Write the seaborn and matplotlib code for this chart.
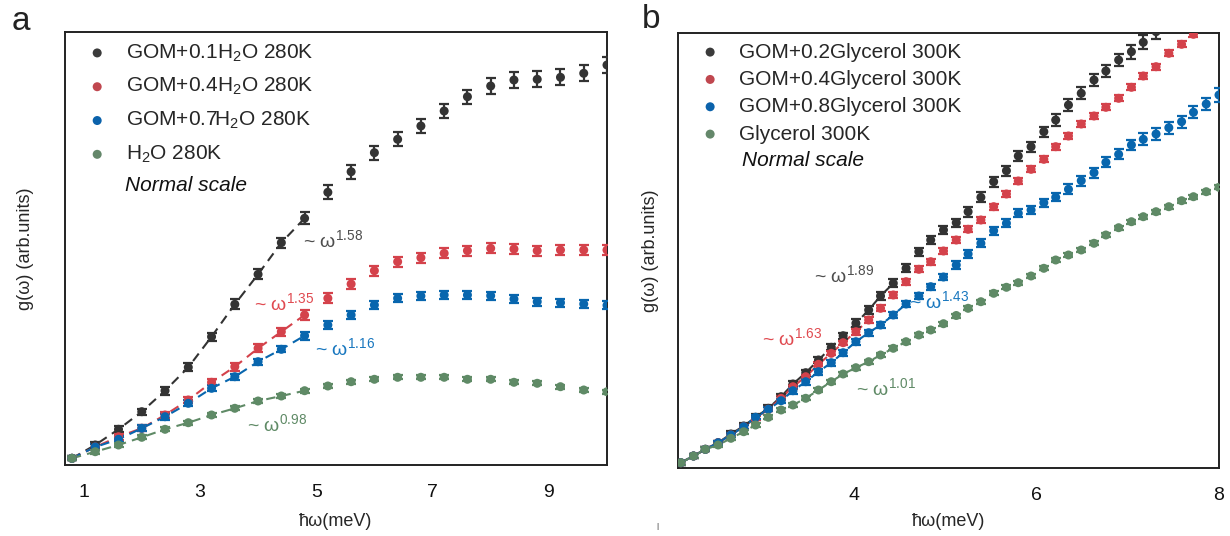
import numpy as np
import pandas as pd
import matplotlib
matplotlib.use("Agg")
import matplotlib.pyplot as plt
import seaborn as sns
from matplotlib.ticker import FixedLocator

sns.set_theme(style="white")
plt.rcParams['font.family'] = ['Liberation Sans', 'DejaVu Sans']
plt.rcParams['mathtext.fontset'] = 'custom'
plt.rcParams['mathtext.rm'] = 'Liberation Sans'
plt.rcParams['mathtext.it'] = 'Liberation Sans:italic'

# ---------------- Panel a data ----------------
energy_a = [0.8, 1.2, 1.6, 2.0, 2.4, 2.8, 3.2, 3.6, 4.0, 4.4, 4.8, 5.2,
            5.6, 6.0, 6.4, 6.8, 7.2, 7.6, 8.0, 8.4, 8.8, 9.2, 9.6, 10.0]
gom01_h2o = [6.7, 20, 35.7, 53.3, 74.3, 97.7, 128.3, 160.7, 190.7, 222.3, 246.7, 272.7,
             293.3, 312.3, 325.7, 339, 354, 368.3, 379, 385, 385.7, 387.7, 391.7, 400]
gom04_h2o = [6.7, 18, 28.3, 36.7, 50, 65, 82.7, 98.3, 116.7, 133.3, 150, 166.7,
             181, 194.3, 203.3, 207.3, 211.7, 214.3, 216.7, 216, 214.3, 215, 215, 215]
gom07_h2o = [6.7, 18, 25.7, 36.7, 48.3, 61.7, 76.7, 88.3, 103.3, 115.7, 129.3, 140,
             150, 160, 166.7, 169, 170, 170, 169.3, 166, 163.3, 162.3, 161, 159.7]
h2o = [6.7, 13.3, 20, 27.7, 35.7, 42.3, 50, 56.7, 64, 69, 74.3, 79,
       83.3, 85.7, 87.7, 87.7, 87.7, 85.7, 85.7, 82.7, 81.7, 78.3, 75, 73.3]
err_gom01_h2o = [2, 3, 3, 3, 4, 4, 4, 5, 5, 5, 6, 7, 7, 7, 7, 7, 7, 7, 8, 8, 8, 8, 8, 8]
err_gom04_h2o = [2, 3, 3, 3, 3, 3, 3, 4, 4, 4, 5, 5, 5, 5, 5, 5, 5, 5, 5, 5, 5, 5, 5, 5]
err_gom07_h2o = [2, 3, 3, 3, 3, 3, 3, 3, 3, 3, 4, 4, 4, 4, 4, 4, 4, 4, 4, 4, 4, 4, 4, 4]
err_h2o = [2, 2, 2, 2, 2, 2, 2, 2, 2, 2, 2, 2, 2, 2, 2, 2, 2, 2, 2, 2, 2, 2, 2, 2]
labels_a = ["GOM+0.1H$_2$O 280K", "GOM+0.4H$_2$O 280K", "GOM+0.7H$_2$O 280K", "H$_2$O 280K"]
fit_labels_a = ["1.58", "1.35", "1.16", "0.98"]

# ---------------- Panel b data ----------------
energy_b = [2.10, 2.24, 2.37, 2.51, 2.65, 2.79, 2.92, 3.06, 3.20, 3.33, 3.47, 3.61,
            3.75, 3.88, 4.02, 4.16, 4.29, 4.43, 4.57, 4.71, 4.84, 4.98, 5.12, 5.25,
            5.39, 5.53, 5.67, 5.80, 5.94, 6.08, 6.21, 6.35, 6.49, 6.63, 6.76, 6.90,
            7.04, 7.17, 7.31, 7.45, 7.59, 7.72, 7.86, 8.00]
gom02_gly = [5.3, 12, 18.7, 25.3, 34, 42, 50.7, 59.7, 71.3, 84, 95.3, 108,
             120.7, 132.3, 144.7, 158, 172, 184.7, 199.7, 216.3, 228, 238, 245.3, 256.3,
             270.7, 286.3, 297.3, 312, 321.3, 336.3, 348, 363, 374.7, 388, 397, 408,
             416.3, 425.7, 436.3, np.nan, np.nan, np.nan, np.nan, np.nan]
gom04_gly = [5.3, 12, 18.7, 25.3, 33, 41.3, 49.7, 58.7, 69.7, 81.3, 91.3, 103.7,
             114.7, 125.3, 136.3, 148, 159.7, 173, 186.3, 198.7, 206.3, 217, 228, 238.7,
             248, 261.3, 274, 287, 298.7, 308.7, 321.3, 332, 344, 352, 360.7, 369.7,
             380.7, 392, 401.3, 414.7, 423.7, 433.7, np.nan, np.nan]
gom08_gly = [5.3, 12, 18.7, 25.3, 33, 41.3, 50.7, 58.7, 67.3, 77.3, 86.3, 96.3,
             105.3, 115.3, 126.3, 135.3, 143, 153, 164, 172, 181.3, 191, 203, 214,
             224.7, 237.3, 244.7, 254.7, 258, 265.3, 270.7, 278.7, 287.3, 295.3, 305.7, 313.7,
             323, 328.7, 334, 340.3, 346.3, 355.7, 364, 373]
glycerol = [5.3, 12, 18.7, 23, 29.7, 36.3, 43, 50.7, 58, 63, 69.7, 78,
            86.3, 94, 100.3, 106.3, 113, 119.7, 126.3, 133, 138, 144.3, 152.5, 159.7,
            166.3, 174.7, 180.7, 185.3, 192, 199.7, 208, 213, 218, 224.7, 233, 240.3,
            246.3, 251.3, 256.3, 261.3, 267.3, 271.3, 276.3, 280.7]
err_gom02_gly = [2, 2, 2, 2, 3, 3, 3, 3, 3, 3, 3, 3, 3, 3, 4, 4, 4, 4, 4, 4, 4, 4,
                 4, 5, 5, 5, 5, 5, 5, 5, 6, 6, 6, 6, 6, 6, 7, 7, 7, 7, 7, 7, 7, 7]
err_gom04_gly = [2, 2, 2, 2, 2, 2, 2, 2, 2, 2, 2, 2, 2, 2, 3, 3, 3, 3, 3, 3, 3, 3,
                 3, 3, 3, 3, 3, 3, 3, 3, 3, 3, 3, 3, 3, 3, 3, 3, 3, 3, 3, 3, 3, 3]
err_gom08_gly = [2, 2, 2, 2, 2, 2, 2, 2, 2, 3, 3, 3, 3, 3, 3, 3, 3, 3, 3, 3, 3, 3,
                 4, 4, 4, 4, 4, 4, 4, 4, 4, 5, 5, 5, 5, 5, 5, 6, 6, 6, 6, 6, 6, 7]
err_glycerol = [2, 2, 2, 2, 2, 2, 2, 2, 2, 2, 2, 2, 2, 2, 2, 2, 2, 2, 2, 2, 2, 2,
                2, 2, 2, 2, 2, 2, 2, 2, 2, 2, 2, 2, 2, 2, 2, 2, 2, 2, 2, 2, 2, 2]
labels_b = ["GOM+0.2Glycerol 300K", "GOM+0.4Glycerol 300K", "GOM+0.8Glycerol 300K", "Glycerol 300K"]
fit_labels_b = ["1.89", "1.63", "1.43", "1.01"]

# ---------------- styling ----------------
colors = ["#333333", "#d4424b", "#0866ae", "#5f8a66"]
legend_colors = ["#3b3b3b", "#c0474f", "#0b62ab", "#64876a"]
fit_text_colors = ["#4d4d4d", "#e04a50", "#1877bf", "#5f8a66"]

fig = plt.figure(figsize=(12.3, 5.36), dpi=100)
ax_a = fig.add_axes([65/1230, (536-465)/536, (607-65)/1230, (465-32)/536])
ax_b = fig.add_axes([678/1230, (536-468)/536, (1219-678)/1230, (468-33)/536])


def draw_panel(ax, x, series, errs, labels, colors, fit_n, fit_pos, fit_labels):
    for yv, ev, lab, col, nfit in zip(series, errs, labels, colors, fit_n):
        df = pd.DataFrame({"x": x, "y": yv, "e": ev}).dropna()
        ax.errorbar(df["x"], df["y"], yerr=df["e"], fmt="none", ecolor=col,
                    elinewidth=1.6, capsize=3.4, capthick=1.6, zorder=3, clip_on=True)
        sns.lineplot(data=df.iloc[:nfit], x="x", y="y", ax=ax, color=col,
                     linestyle=(0, (4.5, 3)), linewidth=1.5, zorder=2, legend=False)
        sns.scatterplot(data=df, x="x", y="y", ax=ax, color=col, s=42,
                        edgecolor="none", label=lab, zorder=4, clip_on=True)
    for (fx, fy), lab, col in zip(fit_pos, fit_labels, fit_text_colors):
        ax.text(fx, fy, "~ ω$^{" + lab + "}$", color=col, fontsize=14, va="baseline")


# Panel a
draw_panel(ax_a, energy_a, [gom01_h2o, gom04_h2o, gom07_h2o, h2o],
           [err_gom01_h2o, err_gom04_h2o, err_gom07_h2o, err_h2o],
           labels_a, colors, [11, 11, 11, 11],
           [(4.77, 218), (3.93, 155), (4.98, 110), (3.81, 34)], fit_labels_a)
ax_a.set_xlim(0.68, 10.0)
ax_a.set_ylim(0, 433)
ax_a.xaxis.set_major_locator(FixedLocator([1, 3, 5, 7, 9]))
ax_a.xaxis.set_minor_locator(FixedLocator([2, 4, 6, 8]))

# Panel b
draw_panel(ax_b, energy_b, [gom02_gly, gom04_gly, gom08_gly, glycerol],
           [err_gom02_gly, err_gom04_gly, err_gom08_gly, err_glycerol],
           labels_b, colors, [18, 17, 19, 20],
           [(3.56, 186), (2.99, 123), (4.60, 160), (4.02, 73)], fit_labels_b)
ax_b.set_xlim(2.07, 8.0)
ax_b.set_ylim(0, 435)
ax_b.xaxis.set_major_locator(FixedLocator([4, 6, 8]))
ax_b.xaxis.set_minor_locator(FixedLocator([3, 5, 7]))

for ax, lp, leg_xy, lsp, ns_xy, xlp in [(ax_a, 22, (0.044, 0.976), 0.60, (0.111, 0.646), 8),
                                        (ax_b, 14, (0.044, 0.978), 0.40, (0.118, 0.706), 6)]:
    ax.set_yticks([])
    ax.set_xlabel("ħω(meV)", fontsize=13, labelpad=xlp)
    ax.set_ylabel("g(ω) (arb.units)", fontsize=13, labelpad=lp)
    ax.tick_params(axis="x", which="major", direction="in", length=12, width=1.5,
                   labelsize=14, pad=14, color="#111111", labelcolor="#111111")
    ax.tick_params(axis="x", which="minor", direction="in", length=7, width=1.5,
                   color="#111111")
    for sp in ax.spines.values():
        sp.set_visible(True)
        sp.set_color("#222222")
        sp.set_linewidth(1.4)
    handles, labs = ax.get_legend_handles_labels()
    leg = ax.legend(handles, labs, loc="upper left", bbox_to_anchor=leg_xy,
                    frameon=False, fontsize=15, handlelength=0.8, handletextpad=1.0,
                    labelspacing=lsp, borderpad=0, borderaxespad=0, markerscale=1.0)
    for h, c in zip(leg.legend_handles, legend_colors):
        h.set_facecolor(c)
        h.set_edgecolor("none")
    ax.text(ns_xy[0], ns_xy[1], "Normal scale", transform=ax.transAxes,
            fontsize=15, style="italic", va="center", ha="left", color="#111111")

fig.text(21/1230, 1 - 22/536, "a", fontsize=24, ha="center", va="center", color="#222222")
fig.text(651/1230, 1 - 20/536, "b", fontsize=24, ha="center", va="center", color="#222222")
fig.text(657/1230, 1 - 527/536, "|", fontsize=6, ha="center", va="center", color="#222222")

fig.savefig("out.png", dpi=100)
